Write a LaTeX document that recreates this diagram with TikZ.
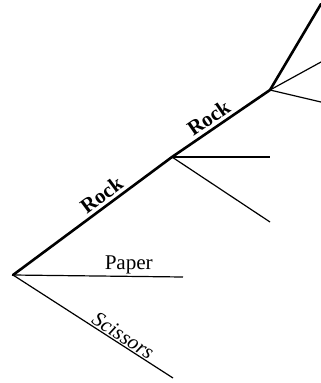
\documentclass[tikz,border=0pt]{standalone}
\usepackage{fontspec}
\setmainfont{Liberation Serif}
\usetikzlibrary{positioning}

\begin{document}
\begin{tikzpicture}[
    x=1pt, y=-1pt,
    move/.style={line width=2.6pt, line cap=round, line join=round},
    reply/.style={line width=1.2pt},
    lbl/.style={sloped, above, inner sep=3pt, font=\fontsize{21}{24}\selectfont},
]
\useasboundingbox (0,0) rectangle (321,383);

% --- decision points ---
\coordinate (root) at (13,275);
\coordinate (mid)  at (172,157);
\coordinate (top)  at (270,90);

% --- leaves ---
\coordinate (paper)    at (183,277);
\coordinate (scissors) at (173,378);
\coordinate (midA)     at (270,157);
\coordinate (midB)     at (270,222);
\coordinate (topUp)    at (321,4);
\coordinate (topA)     at (321,62);
\coordinate (topB)     at (321,102);

% --- first move ---
\draw[move] (root) -- node[lbl, pos=0.6, font=\fontsize{21}{24}\selectfont\bfseries] {Rock} (mid);
\draw[reply] (root) -- node[lbl, pos=0.68, inner sep=2pt] {Paper} (paper);
\draw[reply] (root) -- node[lbl, pos=0.66, inner sep=1pt, font=\fontsize{21}{24}\selectfont\itshape] {Scissors} (scissors);

% --- second move ---
\draw[move] (mid) -- node[lbl, pos=0.44, font=\fontsize{21}{24}\selectfont\bfseries] {Rock} (top);
\draw[reply] (mid) -- (midA);
\draw[reply] (mid) -- (midB);

% --- third move ---
\draw[move] (top) -- (topUp);
\draw[reply] (top) -- (topA);
\draw[reply] (top) -- (topB);

\end{tikzpicture}
\end{document}
